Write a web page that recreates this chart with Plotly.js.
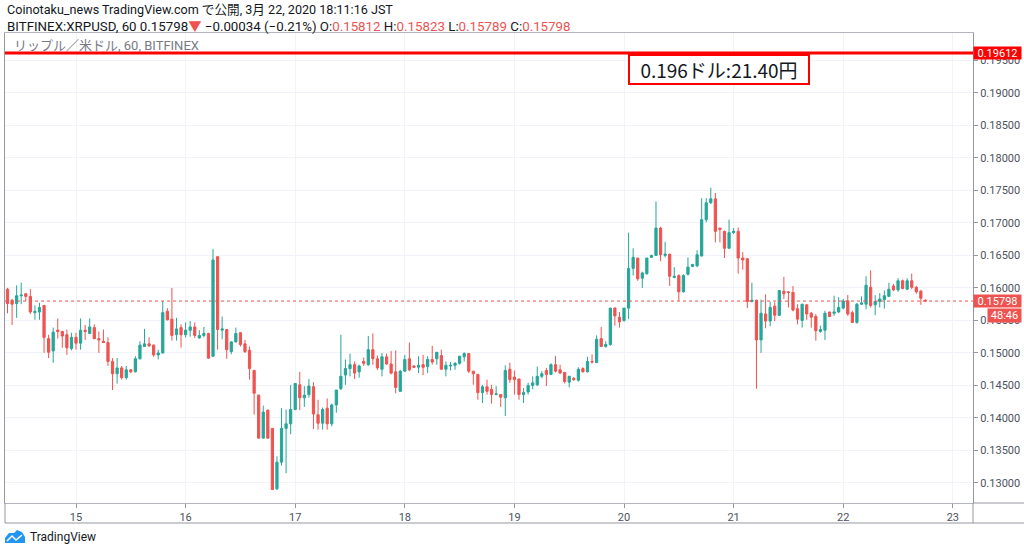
<!DOCTYPE html>
<html>
<head>
<meta charset="utf-8">
<script src="https://cdn.plot.ly/plotly-3.0.1.min.js"></script>
<style>
html,body{margin:0;padding:0;background:#fff;}
#chart{width:1024px;height:552px;}
</style>
</head>
<body>
<div id="chart"></div>
<script>
// ---- Data: XRPUSD hourly candles, BITFINEX, 2020-03-14 09:00 .. 2020-03-22 18:00 (JST)
const startTime = '2020-03-14T09:00:00';
const opens = [
0.1598,0.1581,0.1576,0.1588,0.1591,0.1587,0.1562,0.1563,0.1573,0.1522,
0.1503,0.1535,0.1533,0.1528,0.1507,0.1524,0.1515,0.1535,0.1530,0.1539,
0.1522,0.1518,0.1516,0.1487,0.1468,0.1477,0.1462,0.1474,0.1471,0.1491,
0.1510,0.1514,0.1512,0.1497,0.1500,0.1564,0.1552,0.1528,0.1539,0.1528,
0.1535,0.1540,0.1523,0.1527,0.1530,0.1495,0.1648,0.1535,0.1536,0.1502,
0.1517,0.1531,0.1514,0.1504,0.1473,0.1435,0.1369,0.1412,0.1384,0.1291,
0.1332,0.1384,0.1391,0.1413,0.1451,0.1431,0.1436,0.1448,0.1405,0.1392,
0.1415,0.1391,0.1420,0.1445,0.1466,0.1476,0.1482,0.1471,0.1487,0.1482,
0.1505,0.1491,0.1475,0.1494,0.1483,0.1471,0.1441,0.1472,0.1491,0.1480,
0.1478,0.1482,0.1479,0.1490,0.1491,0.1496,0.1475,0.1480,0.1481,0.1484,
0.1494,0.1499,0.1472,0.1467,0.1439,0.1448,0.1444,0.1436,0.1436,0.1431,
0.1475,0.1463,0.1460,0.1436,0.1440,0.1450,0.1451,0.1464,0.1473,0.1467,
0.1482,0.1474,0.1470,0.1455,0.1461,0.1458,0.1476,0.1471,0.1487,0.1485,
0.1522,0.1510,0.1513,0.1569,0.1555,0.1550,0.1569,0.1630,0.1646,0.1615,
0.1622,0.1647,0.1650,0.1692,0.1650,0.1652,0.1616,0.1619,0.1594,0.1621,
0.1633,0.1634,0.1649,0.1705,0.1731,0.1737,0.1692,0.1687,0.1661,0.1685,
0.1687,0.1646,0.1645,0.1579,0.1581,0.1520,0.1560,0.1549,0.1572,0.1558,
0.1595,0.1594,0.1593,0.1568,0.1550,0.1574,0.1561,0.1556,0.1533,0.1535,
0.1563,0.1561,0.1563,0.1569,0.1580,0.1562,0.1547,0.1575,0.1575,0.1601,
0.1574,0.1579,0.1582,0.1587,0.1603,0.1597,0.1611,0.1598,0.1611,0.1601,
0.1595,0.15812];
const highs = [
0.1600,0.1583,0.1604,0.1608,0.1592,0.1598,0.1573,0.1577,0.1574,0.1528,
0.1539,0.1553,0.1534,0.1536,0.1531,0.1531,0.1553,0.1543,0.1553,0.1544,
0.1533,0.1536,0.1524,0.1492,0.1492,0.1480,0.1480,0.1475,0.1495,0.1518,
0.1537,0.1524,0.1513,0.1505,0.1580,0.1569,0.1600,0.1554,0.1544,0.1547,
0.1549,0.1547,0.1535,0.1540,0.1531,0.1660,0.1649,0.1556,0.1537,0.1518,
0.1539,0.1532,0.1520,0.1510,0.1474,0.1436,0.1419,0.1413,0.1384,0.1341,
0.1415,0.1413,0.1451,0.1453,0.1471,0.1449,0.1460,0.1455,0.1428,0.1416,
0.1430,0.1422,0.1443,0.1528,0.1490,0.1499,0.1487,0.1482,0.1493,0.1526,
0.1530,0.1496,0.1500,0.1499,0.1503,0.1504,0.1474,0.1497,0.1516,0.1481,
0.1495,0.1497,0.1495,0.1511,0.1501,0.1505,0.1487,0.1486,0.1486,0.1495,
0.1501,0.1500,0.1472,0.1467,0.1451,0.1459,0.1451,0.1449,0.1436,0.1481,
0.1485,0.1473,0.1460,0.1446,0.1454,0.1464,0.1479,0.1472,0.1477,0.1484,
0.1495,0.1482,0.1471,0.1465,0.1463,0.1478,0.1478,0.1494,0.1498,0.1527,
0.1540,0.1518,0.1569,0.1570,0.1563,0.1569,0.1685,0.1661,0.1646,0.1625,
0.1646,0.1651,0.1733,0.1694,0.1671,0.1652,0.1632,0.1621,0.1621,0.1647,
0.1637,0.1658,0.1738,0.1738,0.1754,0.1746,0.1692,0.1688,0.1705,0.1692,
0.1693,0.1655,0.1645,0.1608,0.1582,0.1582,0.1590,0.1579,0.1578,0.1596,
0.1617,0.1595,0.1603,0.1575,0.1575,0.1575,0.1563,0.1560,0.1542,0.1565,
0.1563,0.1588,0.1586,0.1583,0.1589,0.1565,0.1577,0.1587,0.1618,0.1627,
0.1589,0.1592,0.1596,0.1608,0.1606,0.1615,0.1613,0.1615,0.1622,0.1603,
0.1597,0.15823];
const lows = [
0.1561,0.1543,0.1554,0.1575,0.1580,0.1560,0.1551,0.1551,0.1500,0.1492,
0.1485,0.1522,0.1508,0.1497,0.1504,0.1505,0.1505,0.1520,0.1529,0.1521,
0.1500,0.1516,0.1480,0.1443,0.1453,0.1459,0.1459,0.1469,0.1470,0.1490,
0.1509,0.1509,0.1494,0.1490,0.1499,0.1550,0.1519,0.1519,0.1508,0.1524,
0.1525,0.1523,0.1522,0.1524,0.1491,0.1494,0.1505,0.1521,0.1491,0.1498,
0.1516,0.1510,0.1500,0.1459,0.1405,0.1368,0.1368,0.1368,0.1289,0.1289,
0.1327,0.1315,0.1375,0.1412,0.1412,0.1417,0.1431,0.1383,0.1382,0.1382,
0.1382,0.1387,0.1408,0.1443,0.1451,0.1464,0.1460,0.1462,0.1480,0.1480,
0.1482,0.1474,0.1464,0.1482,0.1467,0.1438,0.1440,0.1471,0.1472,0.1477,
0.1469,0.1466,0.1469,0.1482,0.1482,0.1474,0.1464,0.1473,0.1474,0.1482,
0.1487,0.1469,0.1451,0.1428,0.1423,0.1436,0.1422,0.1435,0.1417,0.1403,
0.1454,0.1436,0.1428,0.1423,0.1436,0.1444,0.1449,0.1461,0.1449,0.1466,
0.1470,0.1468,0.1453,0.1447,0.1457,0.1456,0.1470,0.1470,0.1484,0.1485,
0.1509,0.1508,0.1511,0.1542,0.1539,0.1548,0.1552,0.1619,0.1611,0.1600,
0.1620,0.1646,0.1650,0.1641,0.1647,0.1603,0.1615,0.1580,0.1593,0.1619,
0.1632,0.1632,0.1649,0.1701,0.1729,0.1670,0.1670,0.1646,0.1660,0.1683,
0.1622,0.1628,0.1569,0.1578,0.1445,0.1500,0.1538,0.1541,0.1549,0.1557,
0.1583,0.1570,0.1564,0.1544,0.1539,0.1551,0.1539,0.1519,0.1531,0.1520,
0.1555,0.1557,0.1561,0.1567,0.1557,0.1546,0.1545,0.1574,0.1567,0.1570,
0.1558,0.1570,0.1568,0.1586,0.1595,0.1594,0.1598,0.1597,0.1598,0.1591,
0.1574,0.15789];
const closes = [
0.1576,0.1575,0.1588,0.1589,0.1587,0.1563,0.1564,0.1570,0.1524,0.1501,
0.1532,0.1533,0.1526,0.1508,0.1524,0.1515,0.1535,0.1533,0.1540,0.1522,
0.1520,0.1516,0.1487,0.1468,0.1477,0.1462,0.1474,0.1471,0.1491,0.1512,
0.1514,0.1511,0.1497,0.1500,0.1562,0.1551,0.1527,0.1537,0.1528,0.1535,
0.1540,0.1527,0.1527,0.1530,0.1492,0.1643,0.1536,0.1537,0.1505,0.1517,
0.1530,0.1513,0.1502,0.1476,0.1438,0.1369,0.1409,0.1369,0.1290,0.1332,
0.1384,0.1391,0.1413,0.1453,0.1431,0.1435,0.1449,0.1406,0.1392,0.1413,
0.1391,0.1420,0.1443,0.1464,0.1476,0.1482,0.1469,0.1480,0.1484,0.1505,
0.1491,0.1477,0.1494,0.1483,0.1469,0.1447,0.1472,0.1490,0.1474,0.1478,
0.1481,0.1478,0.1490,0.1486,0.1501,0.1475,0.1481,0.1481,0.1484,0.1495,
0.1499,0.1472,0.1468,0.1439,0.1448,0.1441,0.1436,0.1437,0.1432,0.1473,
0.1459,0.1459,0.1436,0.1439,0.1450,0.1454,0.1464,0.1468,0.1467,0.1482,
0.1472,0.1469,0.1456,0.1464,0.1459,0.1475,0.1471,0.1487,0.1486,0.1521,
0.1510,0.1513,0.1569,0.1557,0.1548,0.1569,0.1630,0.1647,0.1614,0.1623,
0.1646,0.1650,0.1692,0.1651,0.1652,0.1618,0.1618,0.1594,0.1619,0.1632,
0.1636,0.1651,0.1705,0.1731,0.1737,0.1687,0.1690,0.1661,0.1685,0.1687,
0.1646,0.1643,0.1579,0.1581,0.1520,0.1561,0.1549,0.1570,0.1558,0.1596,
0.1591,0.1593,0.1566,0.1552,0.1575,0.1560,0.1555,0.1534,0.1536,0.1561,
0.1556,0.1563,0.1570,0.1580,0.1560,0.1547,0.1575,0.1577,0.1604,0.1573,
0.1579,0.1583,0.1588,0.1598,0.1597,0.1611,0.1599,0.1611,0.1601,0.1594,
0.1584,0.15798];

// axis ticks
const dayTicks  = ['2020-03-15','2020-03-16','2020-03-17','2020-03-18','2020-03-19','2020-03-20','2020-03-21','2020-03-22','2020-03-23'];
const dayLabels = ['15','16','17','18','19','20','21','22','23'];
const priceTicks = [0.130,0.135,0.140,0.145,0.150,0.155,0.160,0.165,0.170,0.175,0.180,0.185,0.190,0.195];

// reference values
const alertPrice = 0.19612;
const lastPrice = 0.15798;
const lastOpen = 0.15812, lastHigh = 0.15823, lastLow = 0.15789;
const change = '−0.00034', changePct = '−0.21%';
const countdown = '48:46';
const noteText = '0.196ドル:21.40円';

// hourly timestamps
function pad(n){return (n<10?'0':'')+n;}
const times = [];
const t0 = new Date(startTime + 'Z').getTime();
for (let i = 0; i < opens.length; i++) {
  const d = new Date(t0 + i*3600000);
  times.push(d.getUTCFullYear()+'-'+pad(d.getUTCMonth()+1)+'-'+pad(d.getUTCDate())+' '+pad(d.getUTCHours())+':00');
}

const UP = '#26a69a', DN = '#ef5350';
const PW = 968, PH = 470, L = 5, T = 33;   // plot box in px
const px = x => (x - L) / PW;
const py = y => (T + PH - y) / PH;

const trace = {
  type: 'candlestick',
  x: times, open: opens, high: highs, low: lows, close: closes,
  increasing: {line: {color: UP, width: 1}, fillcolor: UP},
  decreasing: {line: {color: DN, width: 1}, fillcolor: DN},
  whiskerwidth: 0,
  hoverinfo: 'skip',
  showlegend: false
};

const font = "Roboto, 'Noto Sans CJK JP', sans-serif";
const red = '#ef5350';

const logoPath = 'M '+[[5,543],[5,538],[9,533],[14,533],[17,530],[22,532],[25,537],[25,543]].map(p=>px(p[0])+','+py(p[1])).join(' L ')+' Z';
const logoZig = 'M '+[[7,541],[12,536],[16,540],[22,535]].map(p=>px(p[0])+','+py(p[1])).join(' L ');

const layout = {
  width: 1024, height: 552,
  margin: {l: L, r: 1024 - L - PW, t: T, b: 552 - T - PH, pad: 0},
  paper_bgcolor: '#ffffff', plot_bgcolor: '#ffffff',
  font: {family: font, size: 11, color: '#4c525e'},
  showlegend: false,
  dragmode: false,
  xaxis: {
    type: 'date',
    range: ['2020-03-14 08:27', '2020-03-23 04:25'],
    tickvals: dayTicks, ticktext: dayLabels,
    ticks: 'outside', ticklen: 4, tickcolor: '#9598a1',
    showgrid: true, gridcolor: '#f0f3fa', gridwidth: 1,
    showline: true, mirror: true, linecolor: '#b2b5be', linewidth: 1,
    zeroline: false,
    rangeslider: {visible: false},
    tickfont: {size: 11, color: '#4c525e', family: font},
    fixedrange: true
  },
  yaxis: {
    side: 'right',
    range: [0.12692, 0.19921],
    tickvals: priceTicks, tickformat: '.5f',
    ticks: 'outside', ticklen: 4, tickcolor: '#9598a1',
    showgrid: true, gridcolor: '#f0f3fa', gridwidth: 1,
    showline: true, mirror: true, linecolor: '#9598a1', linewidth: 1,
    zeroline: false,
    tickfont: {size: 11, color: '#4c525e', family: font},
    fixedrange: true
  },
  shapes: [
    // alert line
    {type: 'line', xref: 'paper', yref: 'y', x0: 0, x1: 1, y0: alertPrice, y1: alertPrice,
     line: {color: '#ff0000', width: 3}, layer: 'above'},
    // last price dotted line
    {type: 'line', xref: 'paper', yref: 'y', x0: 0, x1: 1, y0: lastPrice, y1: lastPrice,
     line: {color: red, width: 1, dash: 'dot'}, layer: 'above'},
    // time axis frame
    {type: 'line', xref: 'paper', yref: 'paper', x0: 0, x1: px(1024), y0: py(523), y1: py(523), line: {color: '#9598a1', width: 1}},
    {type: 'line', xref: 'paper', yref: 'paper', x0: 1, x1: px(1024), y0: 0, y1: 0, line: {color: '#9598a1', width: 1}},
    {type: 'line', xref: 'paper', yref: 'paper', x0: 0, x1: 0, y0: py(523), y1: 0, line: {color: '#9598a1', width: 1}},
    {type: 'line', xref: 'paper', yref: 'paper', x0: 1, x1: 1, y0: py(523), y1: 0, line: {color: '#9598a1', width: 1}},
    // TradingView logo
    {type: 'path', xref: 'paper', yref: 'paper', path: logoPath, fillcolor: '#2196f3', line: {width: 0}},
    {type: 'path', xref: 'paper', yref: 'paper', path: logoZig, line: {color: '#ffffff', width: 1.5}}
  ],
  annotations: [
    {xref: 'paper', yref: 'paper', x: 0, y: py(10), xanchor: 'left', yanchor: 'middle', showarrow: false,
     text: 'Coinotaku_news TradingView.com で公開, 3月 22, 2020 18:11:16 JST',
     font: {family: font, size: 12.6, color: '#131722'}},
    {xref: 'paper', yref: 'paper', x: 0, y: py(26), xanchor: 'left', yanchor: 'middle', showarrow: false,
     text: 'BITFINEX:XRPUSD, 60 ' + lastPrice.toFixed(5) + '<span style="color:#ef5350">▼</span> ' + change + ' (' + changePct + ') O:<span style="color:#ef5350">' + lastOpen.toFixed(5) + '</span> H:<span style="color:#ef5350">' + lastHigh.toFixed(5) + '</span> L:<span style="color:#ef5350">' + lastLow.toFixed(5) + '</span> C:<span style="color:#ef5350">' + lastPrice.toFixed(5) + '</span>',
     font: {family: font, size: 13.3, color: '#131722'}},
    {xref: 'paper', yref: 'paper', x: px(12), y: py(46), xanchor: 'left', yanchor: 'middle', showarrow: false,
     text: 'リップル／米ドル, 60, BITFINEX', font: {family: font, size: 13, color: '#787b86'}},
    // note box
    {xref: 'paper', yref: 'paper', x: px(719), y: py(69.5), xanchor: 'center', yanchor: 'middle', showarrow: false,
     text: noteText, font: {family: "'Noto Sans CJK JP', sans-serif", size: 19, color: '#131722'},
     bgcolor: '#ffffff', bordercolor: '#ff0000', borderwidth: 2, borderpad: 0, width: 178},
    // price labels
    {xref: 'paper', yref: 'y', x: 1, y: alertPrice, xanchor: 'left', yanchor: 'middle', showarrow: false,
     text: alertPrice.toFixed(5), font: {family: font, size: 11, color: '#ffffff'},
     bgcolor: '#ff0000', width: 47, height: 12, borderpad: 0},
    {xref: 'paper', yref: 'y', x: 1, y: lastPrice, xanchor: 'left', yanchor: 'middle', showarrow: false,
     text: lastPrice.toFixed(5), font: {family: font, size: 11, color: '#ffffff'},
     bgcolor: red, width: 47, height: 12, borderpad: 0},
    {xref: 'paper', yref: 'paper', x: px(987), y: py(315.5), xanchor: 'left', yanchor: 'middle', showarrow: false,
     text: countdown, font: {family: font, size: 11, color: '#ffffff'},
     bgcolor: red, width: 33, height: 13, borderpad: 0},
    // logo text
    {xref: 'paper', yref: 'paper', x: px(28), y: py(537), xanchor: 'left', yanchor: 'middle', showarrow: false,
     text: 'TradingView', font: {family: font, size: 12, color: '#131722'}}
  ]
};

Plotly.newPlot('chart', [trace], layout, {displayModeBar: false, staticPlot: true});
</script>
</body>
</html>
